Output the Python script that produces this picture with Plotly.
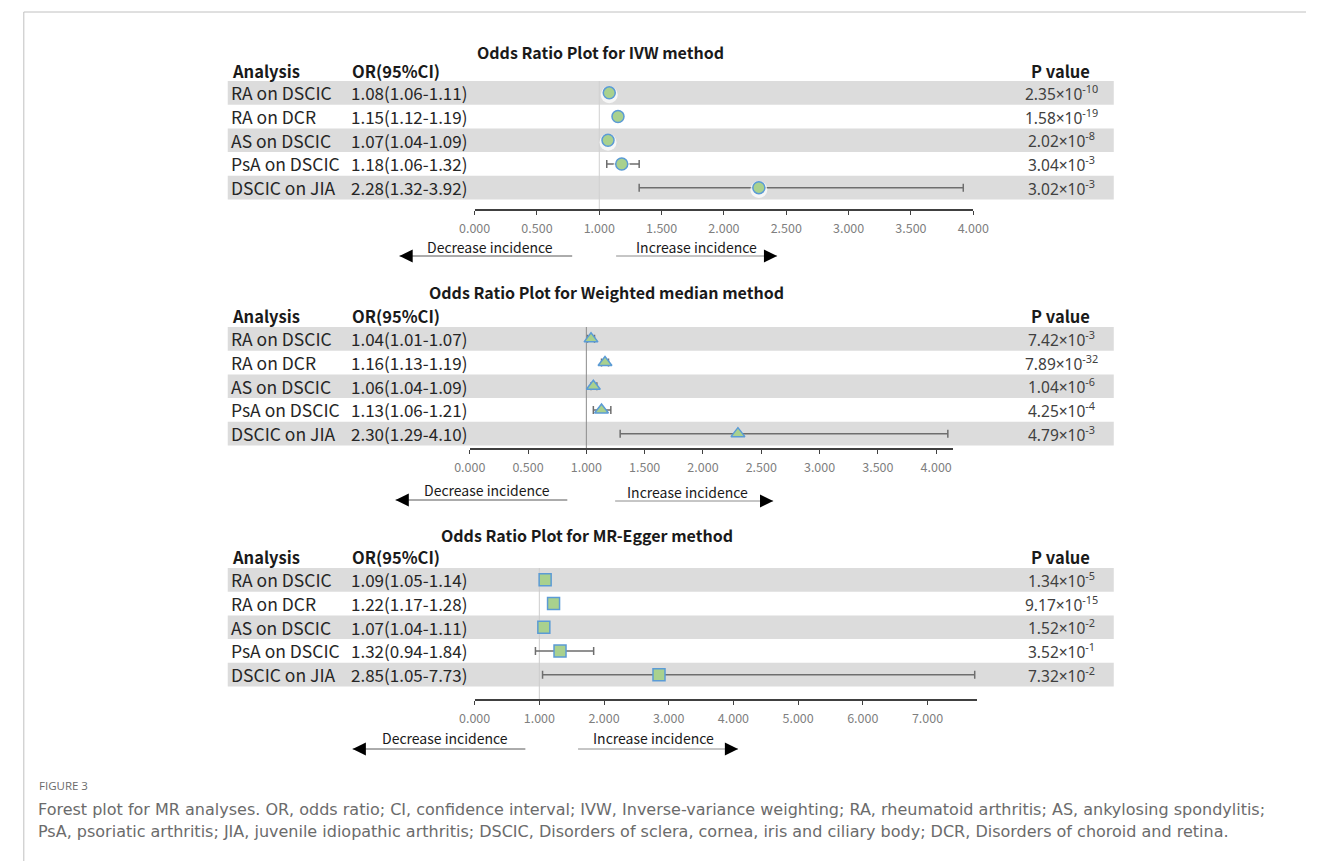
import plotly.graph_objects as go

# ---------------- data ----------------
analyses = ["RA on DSCIC", "RA on DCR", "AS on DSCIC", "PsA on DSCIC", "DSCIC on JIA"]

ivw_or = [1.08, 1.15, 1.07, 1.18, 2.28]
ivw_lo = [1.06, 1.12, 1.04, 1.06, 1.32]
ivw_hi = [1.11, 1.19, 1.09, 1.32, 3.92]
ivw_p_mant = [2.35, 1.58, 2.02, 3.04, 3.02]
ivw_p_exp = [-10, -19, -8, -3, -3]

wm_or = [1.04, 1.16, 1.06, 1.13, 2.30]
wm_lo = [1.01, 1.13, 1.04, 1.06, 1.29]
wm_hi = [1.07, 1.19, 1.09, 1.21, 4.10]
wm_p_mant = [7.42, 7.89, 1.04, 4.25, 4.79]
wm_p_exp = [-3, -32, -6, -4, -3]

egger_or = [1.09, 1.22, 1.07, 1.32, 2.85]
egger_lo = [1.05, 1.17, 1.04, 0.94, 1.05]
egger_hi = [1.14, 1.28, 1.11, 1.84, 7.73]
egger_p_mant = [1.34, 9.17, 1.52, 3.52, 7.32]
egger_p_exp = [-5, -15, -2, -1, -2]

titles = ["Odds Ratio Plot for IVW method",
          "Odds Ratio Plot for Weighted median method",
          "Odds Ratio Plot for MR-Egger method"]
tick_vals_ivw = [0, 0.5, 1, 1.5, 2, 2.5, 3, 3.5, 4]
tick_vals_wm = [0, 0.5, 1, 1.5, 2, 2.5, 3, 3.5, 4]
tick_vals_egger = [0, 1, 2, 3, 4, 5, 6, 7]
caption_label = "FIGURE 3"
caption_lines = [
    "Forest plot for MR analyses. OR, odds ratio; CI, confidence interval; IVW, Inverse-variance weighting; RA, rheumatoid arthritis; AS, ankylosing spondylitis;",
    "PsA, psoriatic arthritis; JIA, juvenile idiopathic arthritis; DSCIC, Disorders of sclera, cornea, iris and ciliary body; DCR, Disorders of choroid and retina.",
]

# ---------------- layout geometry (pixels) ----------------
W, H = 1322, 861
def px(x):
    return x / W
def py(y):
    return 1 - y / H

FONT = "Noto Sans CJK SC"
PFONT = "Noto Sans"
TXT = "#262626"
BAND = "#dcdcdc"
PITCH = 23.7

panels = [
    dict(orv=ivw_or, lo=ivw_lo, hi=ivw_hi, pm=ivw_p_mant, pe=ivw_p_exp,
         symbol="circle", size=12, halo=True, ticks=tick_vals_ivw,
         x0px=470, x1px=981, xmax=4.0, top=81, axis=209, title_y=52, title_x=599, head_y=71,
         ref_color="#d0d0d0",
         dec=dict(tx=486, ty=247, x0=570, x1=393, y=256),
         inc=dict(tx=697, ty=247, x0=615, x1=780, y=256)),
    dict(orv=wm_or, lo=wm_lo, hi=wm_hi, pm=wm_p_mant, pe=wm_p_exp,
         symbol="triangle-up", size=12, halo=False, ticks=tick_vals_wm,
         x0px=465, x1px=960, xmax=(960 - 465) / 119.5, top=327, axis=448, title_y=292, title_x=605, head_y=316,
         ref_color="#8c8c8c",
         dec=dict(tx=483, ty=490, x0=565, x1=389, y=500),
         inc=dict(tx=688, ty=492, x0=614, x1=776, y=501)),
    dict(orv=egger_or, lo=egger_lo, hi=egger_hi, pm=egger_p_mant, pe=egger_p_exp,
         symbol="square", size=12, halo=False, ticks=tick_vals_egger,
         x0px=470, x1px=985, xmax=(985 - 470) / 66.3, top=568, axis=699, title_y=535, title_x=585, head_y=557,
         ref_color="#cccccc",
         dec=dict(tx=440, ty=738, x0=522, x1=345, y=749),
         inc=dict(tx=653, ty=738, x0=576, x1=740, y=749)),
]

fig = go.Figure()
shapes = []
annotations = []

for k, P in enumerate(panels):
    idx = "" if k == 0 else str(k + 1)
    xa, ya = "x" + idx, "y" + idx
    n = len(analyses)
    rows = list(range(n))

    err = dict(type="data", symmetric=False,
               array=[h - o for h, o in zip(P["hi"], P["orv"])],
               arrayminus=[o - l for o, l in zip(P["orv"], P["lo"])],
               color="#6e6e6e", thickness=1.5, width=4)
    fig.add_trace(go.Scatter(
        x=P["orv"], y=rows, xaxis=xa, yaxis=ya, mode="markers",
        marker=dict(size=0.1, color="rgba(0,0,0,0)"), error_x=err,
        showlegend=False, hoverinfo="skip"))
    if P["halo"]:
        fig.add_trace(go.Scatter(
            x=P["orv"], y=[r + 0.08 for r in rows], xaxis=xa, yaxis=ya, mode="markers",
            marker=dict(symbol="circle", size=17, color="rgba(255,255,255,0.75)", line=dict(width=0)),
            showlegend=False, hoverinfo="skip"))
    fig.add_trace(go.Scatter(
        x=P["orv"], y=rows, xaxis=xa, yaxis=ya, mode="markers",
        marker=dict(symbol=P["symbol"], size=P["size"], color="#a9d18e",
                    line=dict(color="#5b9bd5", width=1.5)),
        showlegend=False, hoverinfo="skip"))

    yrange_bottom = -0.5 + (P["axis"] - P["top"]) / PITCH
    layout_x = dict(domain=[px(P["x0px"]), px(P["x1px"])], range=[0, P["xmax"]],
                    anchor=ya, showgrid=False, zeroline=False, showline=True,
                    linecolor="#404040", linewidth=1.5, ticks="outside", ticklen=4,
                    tickwidth=1.2, tickcolor="#404040", tickvals=P["ticks"],
                    tickformat=".3f", ticklabelstandoff=3,
                    tickfont=dict(family=FONT, size=12.5, color="#7f7f7f"))
    layout_y = dict(domain=[py(P["axis"]), py(P["top"])], range=[yrange_bottom, -0.5],
                    anchor=xa, visible=False, showgrid=False, zeroline=False)
    fig.update_layout(**{("xaxis" + idx): layout_x, ("yaxis" + idx): layout_y})

    for r in rows:
        if r % 2 == 0:
            shapes.append(dict(type="rect", xref="paper", yref=ya, x0=px(217), x1=px(1125),
                               y0=r - 0.5, y1=r + 0.5, fillcolor=BAND, line=dict(width=0),
                               layer="below"))
    shapes.append(dict(type="line", xref=xa, yref=ya + " domain", x0=1, x1=1, y0=0, y1=1,
                       line=dict(color=P["ref_color"], width=1), layer="below"))

    annotations.append(dict(x=px(P["title_x"]), y=py(P["title_y"]), xref="paper", yref="paper",
                            text="<b>" + titles[k] + "</b>", showarrow=False, xanchor="center",
                            yanchor="middle", font=dict(family=FONT, size=16, color="#1a1a1a")))
    for txt, xx, anc in [("Analysis", 219, "left"), ("OR(95%CI)", 342, "left"), ("P value", 1070, "center")]:
        annotations.append(dict(x=px(xx), y=py(P["head_y"]), xref="paper", yref="paper",
                                text="<b>" + txt + "</b>", showarrow=False, xanchor=anc,
                                yanchor="middle", font=dict(family=FONT, size=16.5, color="#1a1a1a")))
    for r in rows:
        annotations.append(dict(x=px(218), y=r, xref="paper", yref=ya, text=analyses[r],
                                showarrow=False, xanchor="left", yanchor="middle",
                                font=dict(family=FONT, size=17.5, color=TXT)))
        ortxt = f"{P['orv'][r]:.2f}({P['lo'][r]:.2f}-{P['hi'][r]:.2f})"
        annotations.append(dict(x=px(341), y=r, xref="paper", yref=ya, text=ortxt,
                                showarrow=False, xanchor="left", yanchor="middle",
                                font=dict(family=FONT, size=17, color=TXT)))
        ptxt = f"{P['pm'][r]:.2f}×10<sup>{P['pe'][r]}</sup>"
        annotations.append(dict(x=px(1071), y=r, xref="paper", yref=ya, text=ptxt,
                                showarrow=False, xanchor="center", yanchor="middle",
                                font=dict(family=PFONT, size=15.5, color="#404040")))

    for key, label, lc in [("dec", "Decrease incidence", "#595959"), ("inc", "Increase incidence", "#8c8c8c")]:
        A = P[key]
        annotations.append(dict(x=px(A["tx"]), y=py(A["ty"]), xref="paper", yref="paper",
                                text=label, showarrow=False, xanchor="center", yanchor="middle",
                                font=dict(family=FONT, size=14, color="#1a1a1a")))
        shapes.append(dict(type="line", xref="paper", yref="paper", x0=px(A["x0"]), x1=px(A["x1"]),
                           y0=py(A["y"]), y1=py(A["y"]), line=dict(color=lc, width=1)))
        d = -1 if A["x1"] < A["x0"] else 1
        annotations.append(dict(x=px(A["x1"]), y=py(A["y"]), xref="paper", yref="paper", text="",
                                showarrow=True, arrowhead=2, arrowsize=2.2, arrowwidth=1.2,
                                arrowcolor="#000000", ax=-d * 12, ay=0, standoff=0))

shapes.append(dict(type="line", xref="paper", yref="paper", x0=px(8), x1=1, y0=py(12), y1=py(12),
                   line=dict(color="#c0c0c0", width=1)))
shapes.append(dict(type="line", xref="paper", yref="paper", x0=px(8), x1=px(8), y0=py(12), y1=0,
                   line=dict(color="#c0c0c0", width=1)))

annotations.append(dict(x=px(22), y=py(785), xref="paper", yref="paper", text=caption_label,
                        showarrow=False, xanchor="left", yanchor="middle",
                        font=dict(family="Open Sans", size=11.5, color="#6b6b6b")))
for i, line in enumerate(caption_lines):
    annotations.append(dict(x=px(21), y=py(809 + 22 * i), xref="paper", yref="paper", text=line,
                            showarrow=False, xanchor="left", yanchor="middle",
                            font=dict(family="DejaVu Sans", size=16, color="#6b6b6b")))

fig.update_layout(width=W, height=H, autosize=False, margin=dict(l=0, r=0, t=0, b=0),
                  paper_bgcolor="white", plot_bgcolor="rgba(0,0,0,0)",
                  shapes=shapes, annotations=annotations, showlegend=False)

fig.write_html("out.html", config=dict(displayModeBar=False),
               post_script="document.body.style.margin='0';document.body.style.overflow='hidden';")
